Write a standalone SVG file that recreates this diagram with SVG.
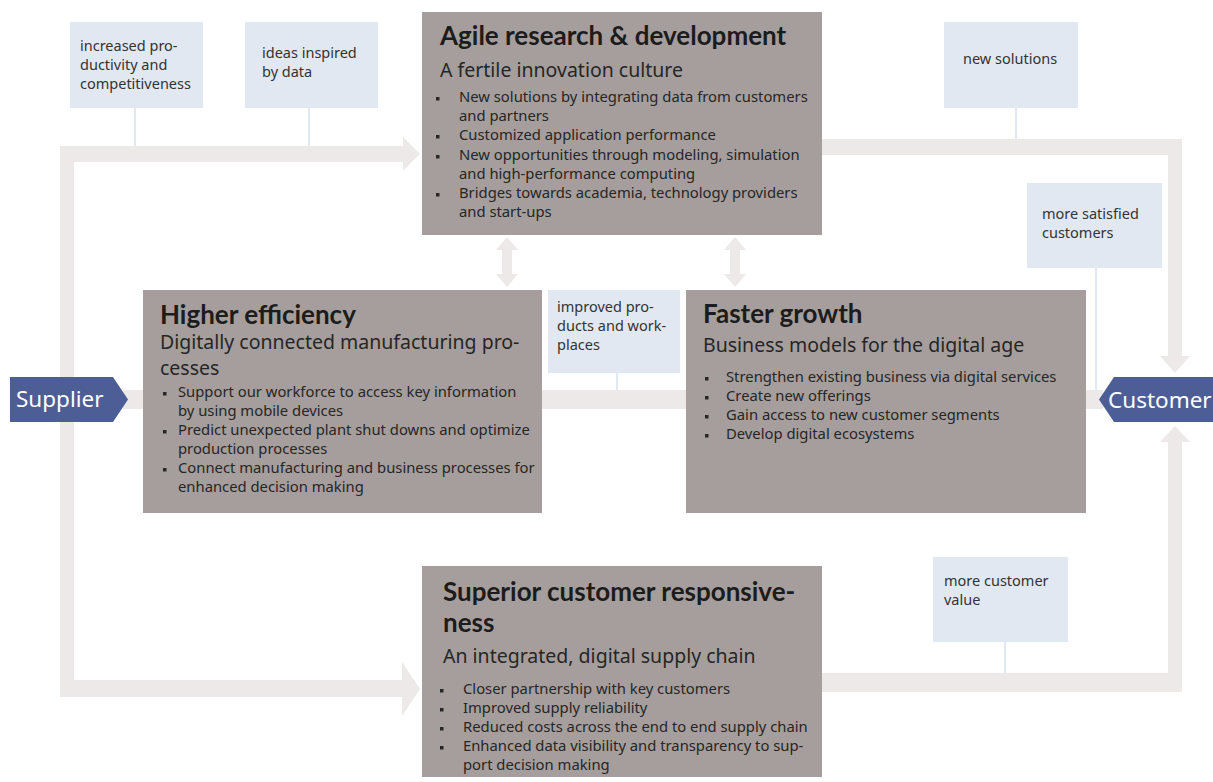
<svg xmlns="http://www.w3.org/2000/svg" width="1213" height="782" viewBox="0 0 1213 782">
<style>
.flow{fill:#ECE9E8}
.tie{stroke:#D9E0EC;stroke-width:1.5;fill:none}
.box{fill:#A59E9C}
.lab{fill:#E2E8F2}
.blue{fill:#4D5E96}
text{font-family:"Noto Sans","Liberation Sans",sans-serif}
.t{font-family:Lato,"Liberation Sans",sans-serif;font-size:26px;font-weight:bold;fill:#1c1c1c}
.s{font-size:19.5px;fill:#262626}
.b{font-size:14.8px;fill:#262626}
.l{font-size:14.5px;fill:#333}
.w{font-size:22.5px;fill:#fff}
</style>
<rect width="1213" height="782" fill="#fff"/>
<g id="connectors">
<rect class="flow" x="123" y="390" width="980" height="19"/>
<path class="flow" d="M60,146 H403 V137 L420,154 L403,171 V162 H74 V680 H402 V662 L420,689 L402,716 V697 H60 Z"/>
<path class="flow" d="M822,139 H1182 V356 H1190 L1175,373 L1160,356 H1168 V155 H822 Z"/>
<path class="flow" d="M822,673 H1168 V442 H1160 L1175,426 L1190,442 H1182 V692 H822 Z"/>
<path class="flow" d="M507,237 L518,250 H512 V274 H518 L507,287 L496,274 H502 V250 H496 Z"/>
<path class="flow" d="M735,237 L746,250 H740 V274 H746 L735,287 L724,274 H730 V250 H724 Z"/>
<line class="tie" x1="135" y1="108" x2="135" y2="146"/>
<line class="tie" x1="309" y1="108" x2="309" y2="146"/>
<line class="tie" x1="1016" y1="108" x2="1016" y2="139"/>
<line class="tie" x1="1096" y1="268" x2="1096" y2="390"/>
<line class="tie" x1="617" y1="373" x2="617" y2="390"/>
<line class="tie" x1="1005" y1="642" x2="1005" y2="673"/>
</g>
<g id="supplier">
<path class="blue" d="M10,377 H113 L128,399.5 L113,422 H10 Z"/>
<text class="w" x="16" y="407">Supplier</text>
</g>
<g id="customer">
<path class="blue" d="M1213,377 H1114 L1099,399.5 L1114,422 H1213 Z"/>
<text class="w" x="1108" y="408">Customer</text>
</g>
<g id="agile">
<rect class="box" x="422" y="12" width="400" height="223"/>
<text class="t" x="440" y="45">Agile research &amp; development</text>
<text class="s" x="440" y="77">A fertile innovation culture</text>
<g class="b">
<rect x="436" y="97" width="3.5" height="3.5" fill="#262626"/><text x="459" y="102">New solutions by integrating data from customers</text>
<text x="459" y="121">and partners</text>
<rect x="436" y="135" width="3.5" height="3.5" fill="#262626"/><text x="459" y="140">Customized application performance</text>
<rect x="436" y="155" width="3.5" height="3.5" fill="#262626"/><text x="459" y="160">New opportunities through modeling, simulation</text>
<text x="459" y="179">and high-performance computing</text>
<rect x="436" y="193" width="3.5" height="3.5" fill="#262626"/><text x="459" y="198">Bridges towards academia, technology providers</text>
<text x="459" y="217">and start-ups</text>
</g>
</g>
<g id="efficiency">
<rect class="box" x="143" y="290" width="399" height="223"/>
<text class="t" x="160" y="324">Higher efficiency</text>
<text class="s" x="160" y="349">Digitally connected manufacturing pro-</text>
<text class="s" x="160" y="375">cesses</text>
<g class="b">
<rect x="163" y="392" width="3.5" height="3.5" fill="#262626"/><text x="178" y="397">Support our workforce to access key information</text>
<text x="178" y="416">by using mobile devices</text>
<rect x="163" y="430" width="3.5" height="3.5" fill="#262626"/><text x="178" y="435">Predict unexpected plant shut downs and optimize</text>
<text x="178" y="454">production processes</text>
<rect x="163" y="468" width="3.5" height="3.5" fill="#262626"/><text x="178" y="473">Connect manufacturing and business processes for</text>
<text x="178" y="492">enhanced decision making</text>
</g>
</g>
<g id="growth">
<rect class="box" x="686" y="290" width="400" height="223"/>
<text class="t" x="703" y="323">Faster growth</text>
<text class="s" x="703" y="352">Business models for the digital age</text>
<g class="b">
<rect x="705" y="377" width="3.5" height="3.5" fill="#262626"/><text x="726" y="382">Strengthen existing business via digital services</text>
<rect x="705" y="396" width="3.5" height="3.5" fill="#262626"/><text x="726" y="401">Create new offerings</text>
<rect x="705" y="415" width="3.5" height="3.5" fill="#262626"/><text x="726" y="420">Gain access to new customer segments</text>
<rect x="705" y="434" width="3.5" height="3.5" fill="#262626"/><text x="726" y="439">Develop digital ecosystems</text>
</g>
</g>
<g id="responsiveness">
<rect class="box" x="422" y="566" width="400" height="211"/>
<text class="t" x="443" y="601">Superior customer responsive-</text>
<text class="t" x="443" y="632">ness</text>
<text class="s" x="443" y="663">An integrated, digital supply chain</text>
<g class="b">
<rect x="440" y="689" width="3.5" height="3.5" fill="#262626"/><text x="463" y="694">Closer partnership with key customers</text>
<rect x="440" y="708" width="3.5" height="3.5" fill="#262626"/><text x="463" y="713">Improved supply reliability</text>
<rect x="440" y="727" width="3.5" height="3.5" fill="#262626"/><text x="463" y="732">Reduced costs across the end to end supply chain</text>
<rect x="440" y="746" width="3.5" height="3.5" fill="#262626"/><text x="463" y="751">Enhanced data visibility and transparency to sup-</text>
<text x="463" y="770">port decision making</text>
</g>
</g>
<g id="label-productivity">
<rect class="lab" x="70" y="22" width="133" height="86"/>
<text class="l" x="80" y="51">increased pro-</text>
<text class="l" x="80" y="70">ductivity and</text>
<text class="l" x="80" y="89">competitiveness</text>
</g>
<g id="label-ideas">
<rect class="lab" x="245" y="22" width="133" height="86"/>
<text class="l" x="262" y="58">ideas inspired</text>
<text class="l" x="262" y="77">by data</text>
</g>
<g id="label-new-solutions">
<rect class="lab" x="944" y="22" width="134" height="86"/>
<text class="l" x="963" y="64">new solutions</text>
</g>
<g id="label-satisfied">
<rect class="lab" x="1027" y="183" width="135" height="85"/>
<text class="l" x="1042" y="219">more satisfied</text>
<text class="l" x="1042" y="238">customers</text>
</g>
<g id="label-improved">
<rect class="lab" x="548" y="290" width="132" height="83"/>
<text class="l" x="557" y="312">improved pro-</text>
<text class="l" x="557" y="331">ducts and work-</text>
<text class="l" x="557" y="350">places</text>
</g>
<g id="label-value">
<rect class="lab" x="933" y="557" width="135" height="85"/>
<text class="l" x="944" y="586">more customer</text>
<text class="l" x="944" y="605">value</text>
</g>
</svg>
